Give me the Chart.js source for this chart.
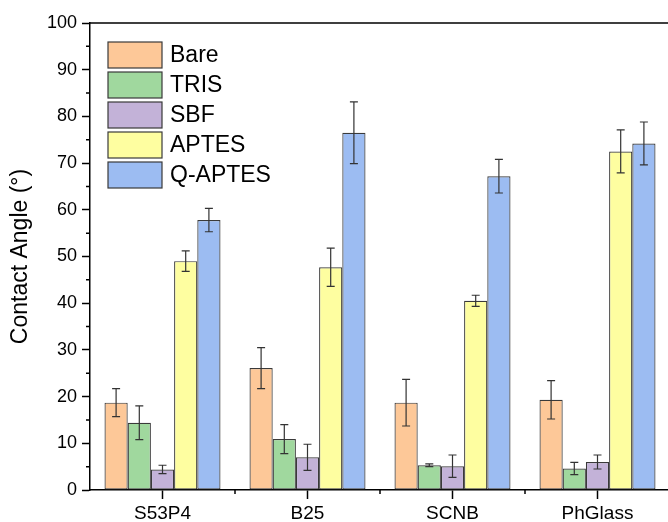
<!DOCTYPE html>
<html>
<head>
<meta charset="utf-8">
<script src="https://cdn.jsdelivr.net/npm/chart.js@4.4.1/dist/chart.umd.min.js"></script>
<style>
  html, body { margin: 0; padding: 0; background: #fff; overflow: hidden; }
  #wrap { width: 672px; height: 522px; position: relative; }
</style>
</head>
<body>
<div id="wrap"><canvas id="angleChart"></canvas></div>
<script>
const substrates = ["S53P4", "B25", "SCNB", "PhGlass"];
const seriesNames = ["Bare", "TRIS", "SBF", "APTES", "Q-APTES"];
const bare = [18.7, 26.1, 18.7, 19.3];
const bareErr = [3.0, 4.4, 5.0, 4.1];
const tris = [14.4, 10.9, 5.3, 4.6];
const trisErr = [3.6, 3.1, 0.3, 1.3];
const sbf = [4.4, 7.0, 5.1, 6.0];
const sbfErr = [0.9, 2.8, 2.4, 1.5];
const aptes = [49.0, 47.7, 40.5, 72.5];
const aptesErr = [2.2, 4.1, 1.2, 4.6];
const qaptes = [57.8, 76.5, 67.2, 74.2];
const qaptesErr = [2.5, 6.6, 3.6, 4.6];
const yMin = 0, yMax = 100, yStep = 10, yMinorStep = 5;

const fills = ["#fdc898", "#a0d89e", "#c3b2d8", "#fefea0", "#9cbcf2"];
const values = [bare, tris, sbf, aptes, qaptes];
const errors = [bareErr, trisErr, sbfErr, aptesErr, qaptesErr];
const FONT = "'Liberation Sans', Arial, sans-serif";

// error bars drawn from the dataset values through the y scale
const errorBars = {
    id: "errorBars",
    afterDatasetsDraw(chart) {
        const ctx = chart.ctx;
        const y = chart.scales.y;
        ctx.save();
        ctx.strokeStyle = "#333";
        ctx.lineWidth = 1.2;
        chart.data.datasets.forEach((ds, di) => {
            const meta = chart.getDatasetMeta(di);
            meta.data.forEach((bar, i) => {
                const v = ds.data[i], e = ds.errors[i];
                const top = y.getPixelForValue(v + e);
                const bot = y.getPixelForValue(v - e);
                const x = bar.x;
                ctx.beginPath();
                ctx.moveTo(x, top); ctx.lineTo(x, bot);
                ctx.moveTo(x - 4, top); ctx.lineTo(x + 4, top);
                ctx.moveTo(x - 4, bot); ctx.lineTo(x + 4, bot);
                ctx.stroke();
            });
        });
        ctx.restore();
    }
};

// frame top line, minor y ticks, small x ticks between groups, legend box
const decorations = {
    id: "decorations",
    afterDraw(chart) {
        const ctx = chart.ctx;
        const area = chart.chartArea;
        const x = chart.scales.x, y = chart.scales.y;
        ctx.save();
        ctx.strokeStyle = "#000";
        ctx.lineWidth = 1.5;
        ctx.beginPath();
        ctx.moveTo(area.left, area.top);
        ctx.lineTo(area.right + 5, area.top);
        for (let v = yMin + yMinorStep; v < yMax; v += yStep) {
            const py = y.getPixelForValue(v);
            ctx.moveTo(area.left - 4, py);
            ctx.lineTo(area.left, py);
        }
        for (let i = 0; i < substrates.length - 1; i++) {
            const px = (x.getPixelForValue(i) + x.getPixelForValue(i + 1)) / 2;
            ctx.moveTo(px, area.bottom);
            ctx.lineTo(px, area.bottom + 4);
        }
        ctx.stroke();

        // legend
        const lx = area.left + 18, ly = area.top + 19;
        ctx.font = "23px " + FONT;
        ctx.textBaseline = "middle";
        chart.data.datasets.forEach((ds, i) => {
            const top = ly + i * 30;
            ctx.fillStyle = ds.backgroundColor;
            ctx.fillRect(lx, top, 54, 26);
            ctx.strokeStyle = "#3a3a3a";
            ctx.lineWidth = 1.2;
            ctx.strokeRect(lx, top, 54, 26);
            ctx.fillStyle = "#000";
            ctx.fillText(ds.label, lx + 62, top + 14);
        });
        ctx.restore();
    }
};

const ctx = document.getElementById("angleChart").getContext("2d");
new Chart(ctx, {
    type: "bar",
    data: {
        labels: substrates,
        datasets: seriesNames.map((name, i) => ({
            label: name,
            data: values[i],
            errors: errors[i],
            backgroundColor: fills[i],
            borderColor: "#3a3a3a",
            borderWidth: 1.2,
            borderSkipped: false,
            categoryPercentage: 0.8,
            barPercentage: 1.0
        }))
    },
    options: {
        responsive: true,
        maintainAspectRatio: false,
        animation: false,
        layout: { padding: { top: 23, right: 2, left: 0, bottom: 0 } },
        plugins: {
            legend: { display: false },
            tooltip: { enabled: false }
        },
        scales: {
            x: {
                grid: { drawOnChartArea: false, offset: false, tickLength: 9, tickColor: "#000", tickWidth: 1.5 },
                border: { color: "#000", width: 1.5 },
                ticks: { color: "#000", font: { family: FONT, size: 19 }, padding: 3 },
                afterFit(scale) { scale.height = 32; }
            },
            y: {
                min: yMin,
                max: yMax,
                ticks: { stepSize: yStep, color: "#000", font: { family: FONT, size: 18 }, padding: 5 },
                grid: { drawOnChartArea: false, tickLength: 8, tickColor: "#000", tickWidth: 1.5 },
                border: { color: "#000", width: 1.5 },
                title: {
                    display: true,
                    text: "Contact Angle (°)",
                    color: "#000",
                    font: { family: FONT, size: 23 },
                    padding: { top: 7, bottom: 0 }
                },
                afterFit(scale) { scale.width = 90; }
            }
        }
    },
    plugins: [errorBars, decorations]
});
</script>
</body>
</html>
